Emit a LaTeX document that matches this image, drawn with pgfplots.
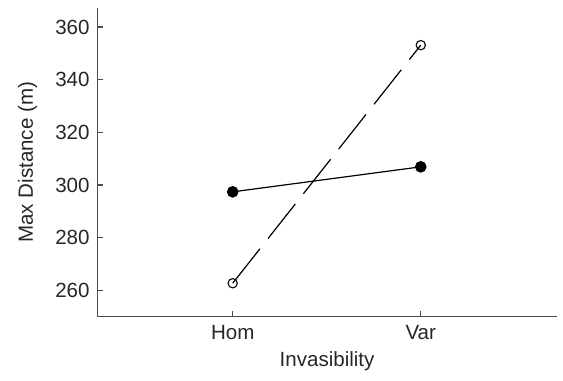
\documentclass[border=0pt]{standalone}
\usepackage{fontspec}
\setmainfont{Liberation Sans}
\usepackage{pgfplots}
\pgfplotsset{compat=1.18}
\begin{document}
\begin{tikzpicture}
\begin{axis}[
  name=ax,
  scale only axis,
  width=344.4pt, height=231.5pt,
  xmin=0.281, xmax=2.723,
  ymin=250, ymax=367.2,
  axis lines*=left,
  axis line style={draw=black!70, line width=1pt},
  tick align=inside,
  major tick length=4.5pt,
  tick style={draw=black!70, line width=0.9pt},
  xtick={1,2}, xticklabels={Hom,Var},
  ytick={260,280,300,320,340,360},
  font=\fontsize{15.4pt}{18pt}\selectfont,
  /pgf/number format/assume math mode=true,
  xticklabel style={yshift=-2.6pt, text=black!85},
  yticklabel style={xshift=-2.4pt, text=black!85},
  xlabel={Invasibility},
  ylabel={Max Distance (m)},
  xlabel style={at={(axis description cs:0.5,0)}, anchor=base, yshift=-37.7pt, text=black!85},
  ylabel style={at={(axis description cs:-0.1405,0.5)}, anchor=base, text=black!85},
  clip=false,
]
\addplot[black, line width=0.9pt, mark=*, mark size=3.9pt, mark options={solid, fill=black}]
  coordinates {(1,297.4) (2,306.9)};
\addplot[black, line width=0.9pt, dash pattern=on 33pt off 9.75pt, mark=o, mark size=3.5pt, mark options={solid, fill=white, line width=0.8pt}]
  coordinates {(1,262.7) (2,353.1)};
\end{axis}
\path (ax.south west) ++(-73.1pt,-48.2pt) coordinate (bl);
\path (ax.north east) ++(4.7pt,6pt) coordinate (tr);
\path (bl) (tr);
\end{tikzpicture}
\end{document}
